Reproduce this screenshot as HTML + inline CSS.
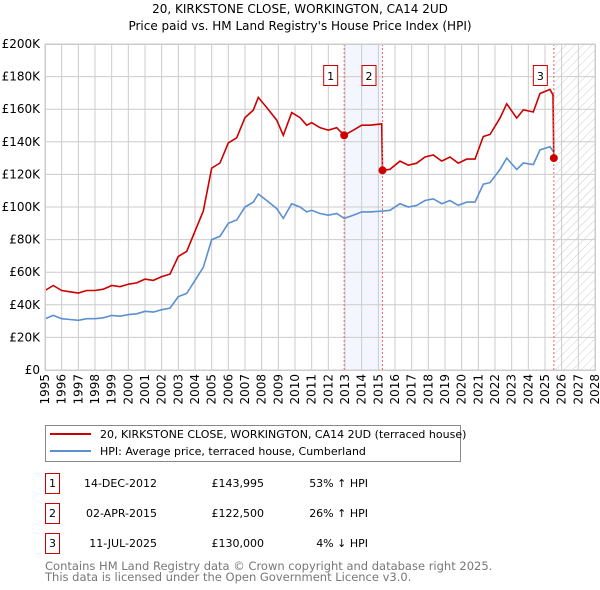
<!DOCTYPE html>
<html><head><meta charset="utf-8"><style>
body{margin:0;background:#fff;font-family:"DejaVu Sans","Liberation Sans",sans-serif;}
svg{display:block}
</style></head><body>
<svg id="c" width="600" height="590" viewBox="0 0 600 590">
<defs><pattern id="hatch" width="6" height="6" patternUnits="userSpaceOnUse" patternTransform="rotate(45)"><line x1="0" y1="0" x2="0" y2="6" stroke="#ccc" stroke-width="1"/></pattern></defs>
<text x="300" y="13" text-anchor="middle" font-size="12">20, KIRKSTONE CLOSE, WORKINGTON, CA14 2UD</text>
<text x="300" y="30" text-anchor="middle" font-size="12">Price paid vs. HM Land Registry's House Price Index (HPI)</text>
<g id="grid"></g><g id="marks"></g><g id="axes"></g>
<g>
<rect x="45.5" y="425.5" width="415" height="36" fill="#fff" stroke="#888"/>
<line x1="50" y1="434" x2="91" y2="434" stroke="#cc0000" stroke-width="2"/>
<text x="100" y="438" font-size="11">20, KIRKSTONE CLOSE, WORKINGTON, CA14 2UD (terraced house)</text>
<line x1="50" y1="451" x2="91" y2="451" stroke="#5b8fd1" stroke-width="2"/>
<text x="100" y="455" font-size="11">HPI: Average price, terraced house, Cumberland</text>
</g>
<g id="table" font-size="11"></g>
<text x="45" y="570" font-size="11.5" fill="#777">Contains HM Land Registry data © Crown copyright and database right 2025.</text>
<text x="45" y="581" font-size="11.5" fill="#777">This data is licensed under the Open Government Licence v3.0.</text>
</svg>
<script>
const hpiDates=[1995,1995.5,1996,1996.5,1997,1997.5,1998,1998.5,1999,1999.5,2000,2000.5,2001,2001.5,2002,2002.5,2003,2003.5,2004,2004.5,2005,2005.5,2006,2006.5,2007,2007.5,2007.8,2008.3,2008.9,2009.3,2009.8,2010.3,2010.7,2011,2011.5,2012,2012.5,2012.95,2013.5,2014,2014.5,2015.25,2015.7,2016.3,2016.8,2017.3,2017.8,2018.3,2018.8,2019.3,2019.8,2020.3,2020.8,2021.3,2021.7,2022.3,2022.7,2023.3,2023.7,2024.3,2024.7,2025.3,2025.5];
const hpiValues=[31.5,33.5,31.5,31,30.5,31.5,31.5,32,33.5,33,34,34.5,36,35.5,37,38,45,47,55,63,80,82,90,92,100,103,108,104,99,93,102,100,97,98,96,95,96,93,95,97,97,97.5,98,102,100,101,104,105,102,104,101,103,103,114,115,123,130,123,127,126,135,137,134];
const saleDates=[2012.95,2015.25,2025.53];
const salePrices=[143995,122500,130000];
const saleLabels=["1","2","3"];
const saleDateText=["14-DEC-2012","02-APR-2015","11-JUL-2025"];
const salePriceText=["£143,995","£122,500","£130,000"];
const saleHpiText=["53% ↑ HPI","26% ↑ HPI","4% ↓ HPI"];
const yTicks=[0,20,40,60,80,100,120,140,160,180,200];
const yTickLabels=["£0","£20K","£40K","£60K","£80K","£100K","£120K","£140K","£160K","£180K","£200K"];
const xYears=[];for(let y=1995;y<=2028;y++)xYears.push(y);

const X0=45,X1=595,Y0=370,Y1=44;
const xs=t=>X0+(t-1995)/(2028-1995)*(X1-X0);
const ys=v=>Y0-v/200*(Y0-Y1);
const NS="http://www.w3.org/2000/svg";
function mk(tag,attrs,parent,txt){const e=document.createElementNS(NS,tag);for(const k in attrs)e.setAttribute(k,attrs[k]);if(txt!==undefined)e.textContent=txt;parent.appendChild(e);return e;}
const grid=document.getElementById('grid'),marks=document.getElementById('marks'),axes=document.getElementById('axes');
function hpiAt(t){for(let i=1;i<hpiDates.length;i++){if(t<=hpiDates[i]){const a=hpiDates[i-1],b=hpiDates[i];return hpiValues[i-1]+(hpiValues[i]-hpiValues[i-1])*(t-a)/(b-a);}}return hpiValues[hpiValues.length-1];}

let r=mk('rect',{x:xs(saleDates[0]),y:Y1,width:xs(saleDates[1])-xs(saleDates[0]),height:Y0-Y1,fill:'#eef3fc',opacity:0.7},grid);


r=mk('rect',{x:xs(saleDates[2]),y:Y1,width:X1-xs(saleDates[2]),height:Y0-Y1,fill:'url(#hatch)'},grid);


yTicks.forEach(v=>{const l=mk('line',{x1:X0,x2:X1,y1:ys(v),y2:ys(v),stroke:'#ccc'},grid);

});
xYears.forEach(yr=>{const l=mk('line',{x1:xs(yr),x2:xs(yr),y1:Y1,y2:Y0,stroke:'#ccc'},grid);

});

let d=hpiDates.map((t,i)=>(i?'L':'M')+xs(t).toFixed(1)+','+ys(hpiValues[i]).toFixed(1)).join('');
let p=mk('path',{d:d,fill:'none',stroke:'#5b8fd1','stroke-width':1.6},marks);


const pts=[];
function seg(t0,t1,ratio){hpiDates.forEach((t,i)=>{if(t>=t0&&t<t1)pts.push([t,hpiValues[i]*ratio]);});}
const r1=salePrices[0]/1000/hpiAt(saleDates[0]),r2=salePrices[1]/1000/hpiAt(saleDates[1]);
seg(1995,saleDates[1],r1);pts.push([saleDates[1]-0.05,hpiAt(saleDates[1])*r1]);
pts.push([saleDates[1],salePrices[1]/1000]);
seg(saleDates[1]+0.01,saleDates[2],r2);pts.push([saleDates[2]-0.05,hpiAt(saleDates[2])*r2]);
pts.push([saleDates[2],salePrices[2]/1000]);
d=pts.map((q,i)=>(i?'L':'M')+xs(q[0]).toFixed(1)+','+ys(q[1]).toFixed(1)).join('');
p=mk('path',{d:d,fill:'none',stroke:'#cc0000','stroke-width':1.6},marks);


saleDates.forEach((t,i)=>{
 const x=xs(t);
 const l=mk('line',{x1:x,x2:x,y1:Y1,y2:Y0,stroke:'#e66','stroke-dasharray':'2,2'},marks);
 
 
 const c=mk('circle',{cx:x,cy:ys(salePrices[i]/1000),r:4,fill:'#cc0000'},marks);
 
 
 const g=mk('g',{},marks);
 
 
 mk('rect',{x:x-20.5,y:65.5,width:14,height:20,fill:'#fff',stroke:'#cc0000'},g);
 mk('text',{x:x-13.5,y:80,'text-anchor':'middle','font-size':11},g,saleLabels[i]);
});
mk('rect',{x:X0+0.5,y:Y1+0.5,width:X1-X0,height:Y0-Y1,fill:'none',stroke:'#ccc'},axes);
yTicks.forEach((v,i)=>{const t=mk('text',{x:40,y:ys(v)+4,'text-anchor':'end','font-size':12},axes,yTickLabels[i]);

});
xYears.forEach(yr=>{const t=mk('text',{x:0,y:0,'text-anchor':'end','font-size':12,transform:`translate(${xs(yr)+4},374) rotate(-90)`},axes,String(yr));

});
const tb=document.getElementById('table');
const rowY=[483,513,543];
saleLabels.forEach((s,i)=>{
 const g=mk('g',{},tb);
 
 
 mk('rect',{x:45.5,y:rowY[i]-9.5,width:14,height:20,fill:'#fff',stroke:'#cc0000'},g);
 mk('text',{x:52.5,y:rowY[i]+4,'text-anchor':'middle'},g,s);
 mk('text',{x:157,y:rowY[i]+4,'text-anchor':'end'},g,saleDateText[i]);
 mk('text',{x:264,y:rowY[i]+4,'text-anchor':'end'},g,salePriceText[i]);
 mk('text',{x:368,y:rowY[i]+4,'text-anchor':'end'},g,saleHpiText[i]);
});
</script>
</body></html>
